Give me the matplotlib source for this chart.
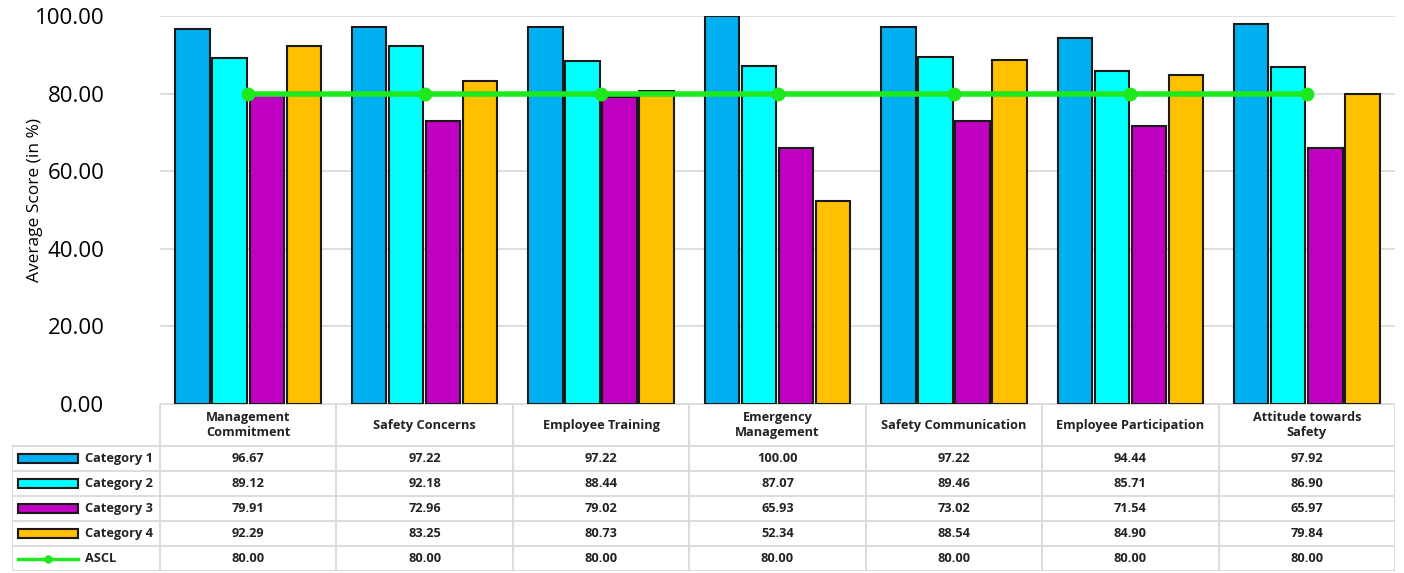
import matplotlib.pyplot as plt
from matplotlib.patches import Rectangle

# Safety climate scores per component and category
components = ["Management\nCommitment", "Safety Concerns", "Employee Training",
              "Emergency\nManagement", "Safety Communication",
              "Employee Participation", "Attitude towards\nSafety"]
series_names = ["Category 1", "Category 2", "Category 3", "Category 4"]
cat1 = [96.67, 97.22, 97.22, 100.00, 97.22, 94.44, 97.92]
cat2 = [89.12, 92.18, 88.44, 87.07, 89.46, 85.71, 86.90]
cat3 = [79.91, 72.96, 79.02, 65.93, 73.02, 71.54, 65.97]
cat4 = [92.29, 83.25, 80.73, 52.34, 88.54, 84.90, 79.84]
ascl = [80.00, 80.00, 80.00, 80.00, 80.00, 80.00, 80.00]
yticks = [0, 20, 40, 60, 80, 100]

colors = ["#00B0F0", "#00FFFF", "#C000C0", "#FFC000"]
ascl_color = "#1EE81E"
grid_color = "#D9D9D9"
table_font = "Open Sans"

W, H = 1404, 573
fig = plt.figure(figsize=(W / 100, H / 100), dpi=100)

# main bar chart
ax = fig.add_axes([160 / W, 1 - 404 / H, 1235 / W, 388 / H])
x = list(range(len(components)))
bar_w = 0.195
step = 0.21
for j, vals in enumerate([cat1, cat2, cat3, cat4]):
    xs = [i + (j - 1.5) * step for i in x]
    ax.bar(xs, vals, width=bar_w, color=colors[j], edgecolor="#1A1A1A",
           linewidth=1.5, zorder=2)
ax.plot(x, ascl, color=ascl_color, lw=4, marker="o", ms=9, zorder=3)

ax.set_xlim(-0.5, len(components) - 0.5)
ax.set_ylim(0, 100)
ax.set_yticks(yticks)
ax.set_yticklabels([f"{v:.2f}" for v in yticks], fontsize=16, family="Open Sans")
ax.set_xticks([])
ax.tick_params(axis="y", length=0, pad=40)
ax.grid(axis="y", color=grid_color, lw=1.2, zorder=0)
for s in ax.spines.values():
    s.set_visible(False)
fig.text(35 / W, 1 - 200 / H, "Average Score (in %)", rotation=90,
         ha="center", va="center", fontsize=12.5, family="Open Sans")

# data table under the chart
tax = fig.add_axes([12 / W, 1 - 571 / H, 1383 / W, 167 / H])
left = -0.5 - 148 / 176.4
right = len(components) - 0.5
head_h = 1.68
n_rows = 5
bottom = head_h + n_rows
tax.set_xlim(left, right)
tax.set_ylim(bottom, 0)
tax.axis("off")

line_kw = dict(color=grid_color, lw=1.3)
tax.plot([-0.5, right], [0, 0], **line_kw)
for r in range(n_rows + 1):
    tax.plot([left, right], [head_h + r, head_h + r], **line_kw)
tax.plot([left, left], [head_h, bottom], **line_kw)
for i in range(len(components) + 1):
    tax.plot([i - 0.5, i - 0.5], [0, bottom], **line_kw)

txt_kw = dict(fontsize=9.2, fontweight="bold", family=table_font, color="#222222")
for i, name in enumerate(components):
    tax.text(i, head_h / 2, name, ha="center", va="center", linespacing=1.2,
             **txt_kw)

rows = [cat1, cat2, cat3, cat4, ascl]
labels = series_names + ["ASCL"]
key_x0 = left + 6 / 176.4
key_x1 = left + 66 / 176.4
for r, (lab, vals) in enumerate(zip(labels, rows)):
    yc = head_h + r + 0.5
    for i, v in enumerate(vals):
        tax.text(i, yc, f"{v:.2f}", ha="center", va="center", **txt_kw)
    if r < 4:
        tax.add_patch(Rectangle((key_x0, yc - 0.17), key_x1 - key_x0, 0.34,
                                facecolor=colors[r], edgecolor="#1A1A1A", lw=1.5))
    else:
        tax.plot([key_x0, key_x1], [yc, yc], color=ascl_color, lw=2.5)
        tax.plot([(key_x0 + key_x1) / 2], [yc], color=ascl_color, marker="o", ms=5)
    tax.text(key_x1 + 7 / 176.4, yc, lab, ha="left", va="center", **txt_kw)

fig.savefig("out.png", dpi=100)
